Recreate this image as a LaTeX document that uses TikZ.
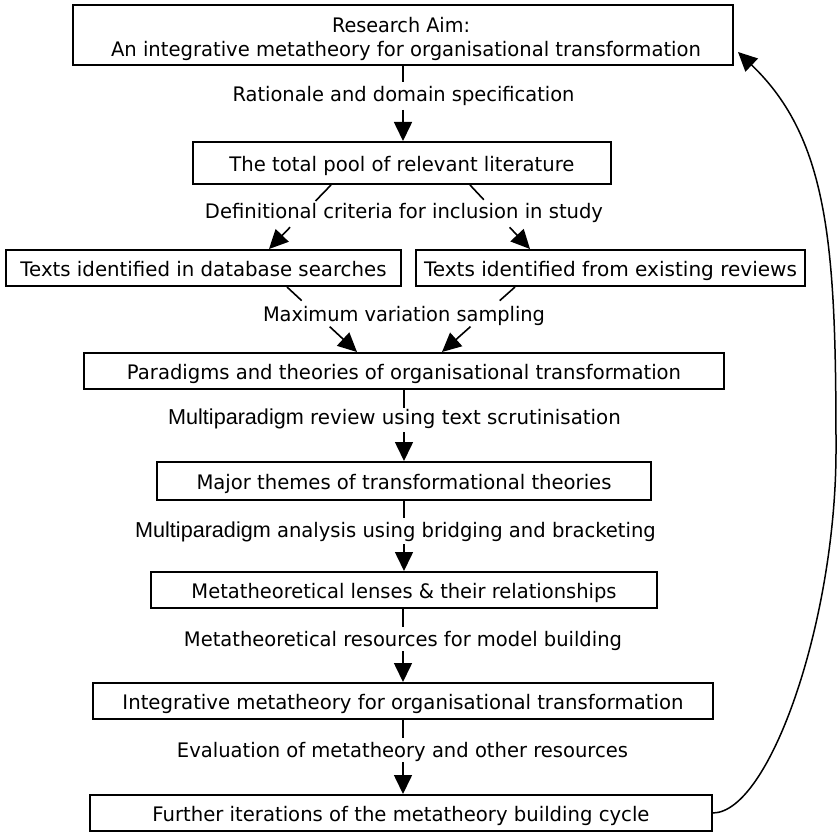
\documentclass[tikz,border=0pt]{standalone}
\usepackage{fontspec}
\setmainfont{DejaVu Sans}
\newfontfamily\arialfont{Liberation Sans}
\usepackage{graphicx}
\usetikzlibrary{arrows.meta,calc}
\newcommand{\fitw}[2]{\resizebox{#1pt}{\height}{#2}}
\newcommand{\mparadigm}{{\arialfont\fontsize{21.6}{24}\selectfont Multiparadigm}}
\begin{document}
\begin{tikzpicture}[x=1pt,y=-1pt,
  box/.style={draw,line width=2pt,inner sep=0pt,minimum height=36pt,font=\fontsize{20}{24}\selectfont,text height=17.6pt,text depth=0pt},
  lbl/.style={inner sep=0pt,font=\fontsize{20}{24}\selectfont,text height=14.6pt,text depth=0pt},
  ln/.style={line width=1.6pt},
  arr/.style={line width=1.6pt,-{Triangle[length=19pt,width=18pt]}}]
\useasboundingbox (0,0) rectangle (837,832);

\node[box,minimum width=660pt,minimum height=60pt] (b1) at (403,35) {};
\node[lbl] (b1a) at (401,25.5) {\fitw{138}{Research Aim:}};
\node[lbl] (b1b) at (406,49.5) {\fitw{590}{An integrative metatheory for organisational transformation}};
\node[lbl] (l1) at (403.5,94.5) {\fitw{342}{Rationale and domain specification}};
\node[box,minimum width=418pt,minimum height=42pt] (b2) at (402,163) {\fitw{345}{The total pool of relevant literature}};
\node[lbl] (l2) at (404,211.5) {\fitw{398}{Definitional criteria for inclusion in study}};
\node[box,minimum width=395pt] (b3l) at (203.5,268) {\fitw{366}{Texts identified in database searches}};
\node[box,minimum width=389pt] (b3r) at (610.5,268) {\fitw{373}{Texts identified from existing reviews}};
\node[lbl] (l3) at (404,313.7) {\fitw{282}{Maximum variation sampling}};
\node[box,minimum width=640pt] (b4) at (404,371) {\fitw{554}{Paradigms and theories of organisational transformation}};
\node[lbl] (l4) at (394.5,417) {\mparadigm\fitw{317}{\ review using text scrutinisation}};
\node[box,minimum width=494pt,minimum height=38pt] (b5) at (404,481) {\fitw{415}{Major themes of transformational theories}};
\node[lbl] (l5) at (395.5,529.7) {\mparadigm\fitw{385}{\ analysis using bridging and bracketing}};
\node[box,minimum width=506pt] (b6) at (404,590) {\fitw{425}{Metatheoretical lenses \& their relationships}};
\node[lbl] (l6) at (403,639) {\fitw{438}{Metatheoretical resources for model building}};
\node[box,minimum width=620pt] (b7) at (403,701) {\fitw{561}{Integrative metatheory for organisational transformation}};
\node[lbl] (l7) at (402.5,750) {\fitw{451}{Evaluation of metatheory and other resources}};
\node[box,minimum width=622pt] (b8) at (401,813) {\fitw{497}{Further iterations of the metatheory building cycle}};

% vertical connectors
\draw[ln] (b1.south) -- ++(0,16);
\draw[arr] (b1.south |- b2.north) ++(0,-31) -- (b1.south |- b2.north);
\draw[ln] (b4.south) -- ++(0,18);
\draw[arr] (b4.south |- b5.north) ++(0,-29) -- (b4.south |- b5.north);
\draw[ln] (b5.south) -- ++(0,17);
\draw[arr] (b5.south |- b6.north) ++(0,-27) -- (b5.south |- b6.north);
\draw[ln] (b7.north |- b6.south) -- ++(0,18);
\draw[arr] (b7.north) ++(0,-31) -- (b7.north);
\draw[ln] (b7.south) -- ++(0,18);
\draw[arr] (b7.south |- b8.north) ++(0,-32) -- (b7.south |- b8.north);

% diagonal connectors
\coordinate (d1a) at ([xshift=-71pt]b2.south);
\coordinate (d1b) at ([xshift=65.5pt]b3l.north);
\coordinate (d2a) at ([xshift=68pt]b2.south);
\coordinate (d2b) at ([xshift=-80.5pt]b3r.north);
\coordinate (d3a) at ([xshift=83.5pt]b3l.south);
\coordinate (d3b) at ([xshift=-47pt]b4.north);
\coordinate (d4a) at ([xshift=-95.5pt]b3r.south);
\coordinate (d4b) at ([xshift=38pt]b4.north);
\draw[ln] (d1a) -- ($(d1a)!0.25!(d1b)$);
\draw[arr] ($(d1a)!0.66!(d1b)$) -- (d1b);
\draw[ln] (d2a) -- ($(d2a)!0.23!(d2b)$);
\draw[arr] ($(d2a)!0.66!(d2b)$) -- (d2b);
\draw[ln] (d3a) -- ($(d3a)!0.21!(d3b)$);
\draw[arr] ($(d3a)!0.61!(d3b)$) -- (d3b);
\draw[ln] (d4a) -- ($(d4a)!0.21!(d4b)$);
\draw[arr] ($(d4a)!0.61!(d4b)$) -- (d4b);

% feedback curve
\draw[arr,line width=1.5pt] (b8.east) .. controls (770,812) and (836,620) .. (836,450)
  .. controls (836,250) and (830,140) .. ([xshift=4pt,yshift=-17pt]b1.east);
\end{tikzpicture}
\end{document}
